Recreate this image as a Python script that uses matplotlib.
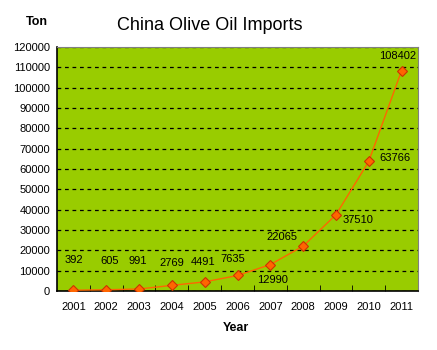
import matplotlib.pyplot as plt
import numpy as np

plt.rcParams['font.family'] = ['Liberation Sans', 'DejaVu Sans']

years = ['2001', '2002', '2003', '2004', '2005', '2006', '2007', '2008', '2009', '2010', '2011']
imports = [392, 605, 991, 2769, 4491, 7635, 12990, 22065, 37510, 63766, 108402]
# label offsets in pixels (dx, dy)
label_off = [(0, 30), (3, 29), (-1, 28), (0, 22), (-2, 20), (-5, 16),
             (2, -15), (-21, 9), (22, -5), (26, 3), (-4, 15)]

fig = plt.figure(figsize=(4.37, 3.5), dpi=100)
ax = fig.add_axes([57/437, 1-291/350, 361/437, 244/350])
ax.set_facecolor('#99CC00')

x = np.arange(len(years))
ax.plot(x, imports, color='#FF6600', lw=1, marker='D', ms=5,
        mfc='#FF6600', mec='#CC3300', mew=0.8, zorder=3)

for xi, v, (dx, dy) in zip(x, imports, label_off):
    ax.annotate(str(v), (xi, v), xytext=(dx*0.72, dy*0.72), textcoords='offset points',
                ha='center', va='center', fontsize=8)

ax.set_xlim(-0.5, 10.5)
ax.set_ylim(0, 120000)
ax.set_yticks(np.arange(0, 120001, 10000))
ax.tick_params(axis='y', length=0, labelsize=8, pad=5)
ax.set_xticks(x)
ax.set_xticklabels(years, fontsize=8)
ax.tick_params(axis='x', length=0, pad=8)
ax.set_xticks(np.arange(0.5, 10.5, 1), minor=True)
ax.tick_params(axis='x', which='minor', direction='in', length=4, color='black')

ax.yaxis.grid(True, color='black', linestyle=(0, (3, 3)), lw=0.9)
ax.set_axisbelow(True)

for s in ['top', 'right']:
    ax.spines[s].set_color('#808080')
for s in ['left', 'bottom']:
    ax.spines[s].set_color('black')
    ax.spines[s].set_linewidth(1.2)

fig.text(210/437, 1-25/350, 'China Olive Oil Imports', ha='center', va='center', fontsize=13)
fig.text(37/437, 1-22/350, 'Ton', ha='center', va='center', fontsize=9, fontweight='bold')
fig.text(236/437, 1-328/350, 'Year', ha='center', va='center', fontsize=9, fontweight='bold')

fig.savefig('out.png', dpi=100)
